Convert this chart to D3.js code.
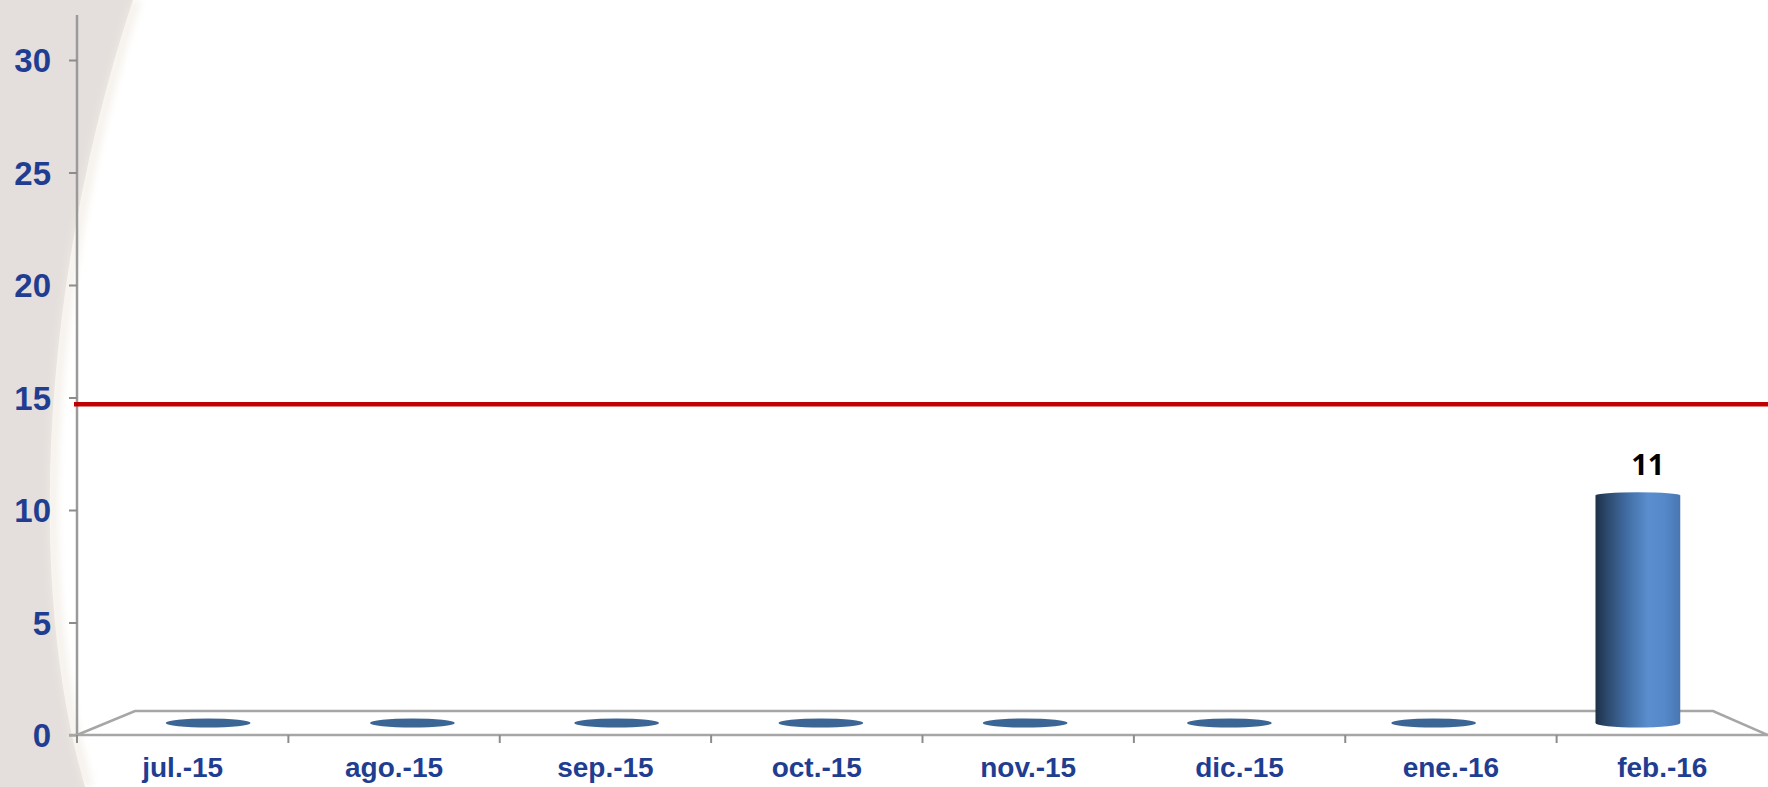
<!DOCTYPE html>
<html>
<head>
<meta charset="utf-8">
<script src="https://cdn.jsdelivr.net/npm/d3@7"></script>
<style>
  html, body { margin: 0; padding: 0; background: #ffffff; }
  svg { display: block; }
</style>
</head>
<body>
<svg id="chart" width="1768" height="787"></svg>
<script>
// Monthly counts, Jul 2015 – Feb 2016
const categories = ["jul.-15", "ago.-15", "sep.-15", "oct.-15", "nov.-15", "dic.-15", "ene.-16", "feb.-16"];
const values = [0, 0, 0, 0, 0, 0, 0, 11];
const yTicks = [0, 5, 10, 15, 20, 25, 30];
const targetValue = 14.7;

const W = 1768, H = 787;
const svg = d3.select("#chart");

// Geometry of the 3D floor: front edge and back edge of the plot floor
const front = { left: 77, right: 1768, y: 735 };
const back = { left: 135, right: 1713, y: 711 };
const mid = { left: 106, right: 1740, y: 723 };

// Scales: front plane (axis) and mid-depth plane (bars)
const y = d3.scaleLinear().domain([0, 32]).range([front.y, 15]);
const yMid = d3.scaleLinear().domain([0, 30]).range([mid.y, mid.y - 30 * 20.7]);
const xFront = d3.scaleBand().domain(categories).range([front.left, front.right]).padding(0);
const xMid = d3.scaleBand().domain(categories).range([mid.left, mid.right]).padding(0);

// Left decorative backdrop with a curved edge
const defs = svg.append("defs");
const soft = defs.append("filter").attr("id", "soft").attr("x", "-50%").attr("width", "200%");
soft.append("feGaussianBlur").attr("stdDeviation", 4);

svg.append("path")
  .attr("d", "M0,0 L133,0 C50,250 20,560 85,787 L0,787 Z")
  .attr("fill", "#e4dfdc");
svg.append("path")
  .attr("d", "M136,0 C53,250 23,560 88,787")
  .attr("fill", "none")
  .attr("stroke", "#f1ebe3")
  .attr("stroke-width", 7)
  .attr("filter", "url(#soft)");

// Floor outline
const floor = svg.append("g")
  .attr("fill", "none")
  .attr("stroke", "#a6a6a6")
  .attr("stroke-width", 2.5);
floor.append("path")
  .attr("d", `M${front.left},${front.y} L${back.left},${back.y} L${back.right},${back.y} L${front.right},${front.y}`)
  .attr("fill", "#ffffff");

// Y axis
const yAxis = d3.axisLeft(y).tickValues(yTicks).tickSize(8).tickPadding(18).tickFormat(d3.format("d"));
const gy = svg.append("g")
  .attr("transform", `translate(${front.left},0)`)
  .call(yAxis);
gy.select(".domain")
  .attr("d", `M0,${y(32)}V${front.y}`)
  .attr("stroke", "#9a9a9a")
  .attr("stroke-width", 2.5);
gy.selectAll(".tick line").attr("stroke", "#8c8c8c").attr("stroke-width", 2);
gy.selectAll(".tick text")
  .attr("fill", "#1f3e91")
  .attr("font-family", "'Liberation Sans', Arial, sans-serif")
  .attr("font-weight", "bold")
  .attr("font-size", 33)
  .attr("dy", "0.36em");

// X axis along the front edge of the floor
const xAxis = d3.axisBottom(xFront).tickSize(0).tickPadding(22);
const gx = svg.append("g")
  .attr("transform", `translate(0,${front.y})`)
  .call(xAxis);
gx.select(".domain")
  .attr("d", `M${front.left - 8},0H${front.right}`)
  .attr("stroke", "#a6a6a6")
  .attr("stroke-width", 2.5);
gx.selectAll(".tick text")
  .attr("fill", "#1f3e91")
  .attr("font-family", "'Liberation Sans', Arial, sans-serif")
  .attr("font-weight", "bold")
  .attr("font-size", 28)
  .attr("dy", "0.71em");
// Category separators
gx.selectAll(".sep")
  .data(categories)
  .enter().append("line")
  .attr("class", "sep")
  .attr("x1", d => xFront(d))
  .attr("x2", d => xFront(d))
  .attr("y1", 0)
  .attr("y2", 8)
  .attr("stroke", "#8c8c8c")
  .attr("stroke-width", 2);

// Cylinder gradient
const grad = defs.append("linearGradient").attr("id", "cyl").attr("x1", "0%").attr("x2", "100%");
[["0%", "#1e3049"], ["12%", "#2b4668"], ["35%", "#3f6a9f"], ["62%", "#5a8ecf"], ["82%", "#5588c8"], ["100%", "#4876b2"]]
  .forEach(([o, c]) => grad.append("stop").attr("offset", o).attr("stop-color", c));

// Cylindrical bars
const barW = xMid.bandwidth() * 0.415;
const ry = 4.5;
const bars = svg.append("g").selectAll("g")
  .data(categories.map((c, i) => ({ c, v: values[i] })))
  .enter().append("g");

bars.filter(d => d.v > 0).append("ellipse")
  .attr("cx", d => xMid(d.c) + xMid.bandwidth() / 2)
  .attr("cy", yMid(0))
  .attr("rx", barW / 2)
  .attr("ry", ry)
  .attr("fill", "url(#cyl)");
bars.filter(d => d.v > 0).append("rect")
  .attr("x", d => xMid(d.c) + xMid.bandwidth() / 2 - barW / 2)
  .attr("y", d => yMid(d.v))
  .attr("width", barW)
  .attr("height", d => yMid(0) - yMid(d.v))
  .attr("fill", "url(#cyl)");
bars.append("ellipse")
  .attr("cx", d => xMid(d.c) + xMid.bandwidth() / 2)
  .attr("cy", d => yMid(d.v))
  .attr("rx", barW / 2)
  .attr("ry", d => d.v > 0 ? 3 : ry)
  .attr("fill", d => d.v > 0 ? "url(#cyl)" : "#3b6594");

// Value labels for non-zero bars
bars.filter(d => d.v > 0).append("text")
  .attr("x", d => xMid(d.c) + xMid.bandwidth() / 2 + 10)
  .attr("y", d => yMid(d.v) - 20)
  .attr("text-anchor", "middle")
  .attr("fill", "#000000")
  .attr("font-family", "'Open Sans', 'Noto Sans', sans-serif")
  .attr("font-weight", "bold")
  .attr("font-size", 29)
  .text(d => d.v);

// Target line
svg.append("line")
  .attr("x1", front.left - 3)
  .attr("x2", W)
  .attr("y1", y(targetValue))
  .attr("y2", y(targetValue))
  .attr("stroke", "#c00000")
  .attr("stroke-width", 4.5);
</script>
</body>
</html>
